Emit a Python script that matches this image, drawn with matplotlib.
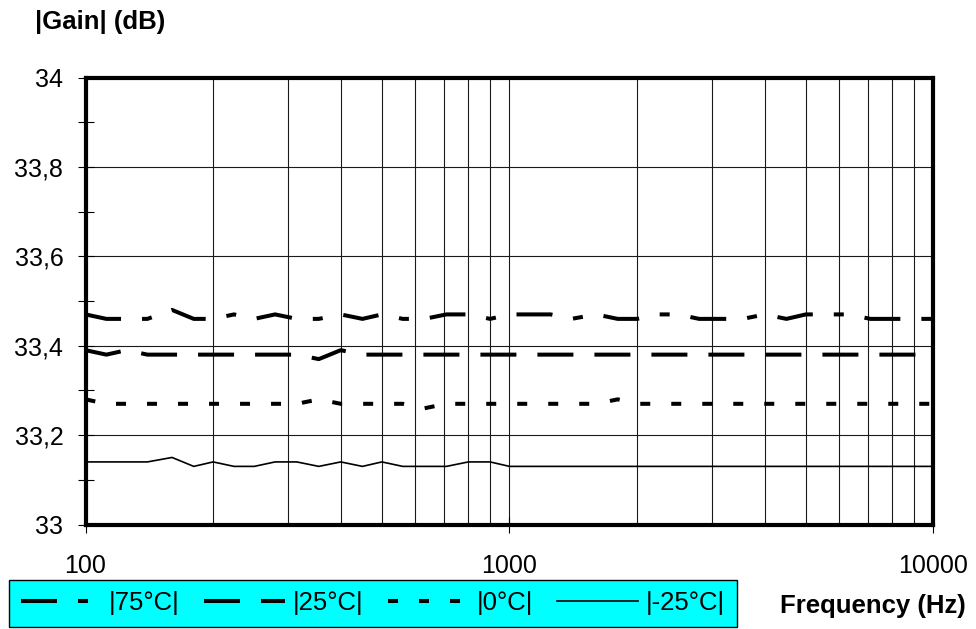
import matplotlib
matplotlib.use("Agg")
import matplotlib.pyplot as plt
from matplotlib.ticker import FixedLocator, FuncFormatter, NullFormatter

plt.rcParams["font.family"] = ["Liberation Sans", "DejaVu Sans"]
plt.rcParams["lines.scale_dashes"] = False

# R20 frequency steps, 100 Hz .. 10 kHz
freq = [100, 112, 125, 140, 160, 180, 200, 224, 250, 280, 315, 355, 400, 450, 500,
        560, 630, 710, 800, 900, 1000, 1120, 1250, 1400, 1600, 1800, 2000, 2240,
        2500, 2800, 3150, 3550, 4000, 4500, 5000, 5600, 6300, 7100, 8000, 9000, 10000]

gain_75 = [33.47, 33.46, 33.46, 33.46, 33.48, 33.46, 33.46, 33.47, 33.46, 33.47,
           33.46, 33.46, 33.47, 33.46, 33.47, 33.46, 33.46, 33.47, 33.47, 33.46,
           33.47, 33.47, 33.47, 33.46, 33.47, 33.46, 33.46, 33.47, 33.47, 33.46,
           33.46, 33.46, 33.47, 33.46, 33.47, 33.47, 33.47, 33.46, 33.46, 33.46, 33.46]

gain_25 = [33.39, 33.38, 33.39, 33.38, 33.38, 33.38, 33.38, 33.38, 33.38, 33.38,
           33.38, 33.37, 33.39, 33.38, 33.38, 33.38, 33.38, 33.38, 33.38, 33.38,
           33.38, 33.38, 33.38, 33.38, 33.38, 33.38, 33.38, 33.38, 33.38, 33.38,
           33.38, 33.38, 33.38, 33.38, 33.38, 33.38, 33.38, 33.38, 33.38, 33.38, 33.38]

gain_0 = [33.28, 33.27, 33.27, 33.27, 33.27, 33.27, 33.27, 33.27, 33.27, 33.27,
          33.27, 33.28, 33.27, 33.27, 33.27, 33.27, 33.26, 33.27, 33.27, 33.27,
          33.27, 33.27, 33.27, 33.27, 33.27, 33.28, 33.27, 33.27, 33.27, 33.27,
          33.27, 33.27, 33.27, 33.27, 33.27, 33.27, 33.27, 33.27, 33.27, 33.27, 33.27]

gain_m25 = [33.14, 33.14, 33.14, 33.14, 33.15, 33.13, 33.14, 33.13, 33.13, 33.14,
            33.14, 33.13, 33.14, 33.13, 33.14, 33.13, 33.13, 33.13, 33.14, 33.14,
            33.13, 33.13, 33.13, 33.13, 33.13, 33.13, 33.13, 33.13, 33.13, 33.13,
            33.13, 33.13, 33.13, 33.13, 33.13, 33.13, 33.13, 33.13, 33.13, 33.13, 33.13]

labels = ["|75°C|", "|25°C|", "|0°C|", "|-25°C|"]
y_ticks = [33, 33.2, 33.4, 33.6, 33.8, 34]
x_ticks = [100, 1000, 10000]

W, H = 976, 629
fig = plt.figure(figsize=(W / 100, H / 100), dpi=100)
ax = fig.add_axes([85.5 / W, (H - 524.5) / H, (933.5 - 85.5) / W, (524.5 - 77.5) / H])

# pixel -> point conversion for dash lengths
px = 0.72
ax.plot(freq, gain_75, color="black", lw=2.9, dashes=(36 * px, 21 * px, 10 * px, 21 * px),
        label=labels[0], zorder=4)
ax.plot(freq, gain_25, color="black", lw=2.9, dashes=(36 * px, 21 * px),
        label=labels[1], zorder=4)
ax.plot(freq, gain_0, color="black", lw=2.9, dashes=(10 * px, 21 * px),
        label=labels[2], zorder=4)
ax.plot(freq, gain_m25, color="black", lw=1.2, label=labels[3], zorder=4)

ax.set_xscale("log")
ax.set_xlim(100, 10000)
ax.set_ylim(33, 34)

ax.xaxis.set_major_locator(FixedLocator(x_ticks))
ax.xaxis.set_major_formatter(FuncFormatter(lambda v, p: f"{v:g}"))
ax.xaxis.set_minor_formatter(NullFormatter())
ax.yaxis.set_major_locator(FixedLocator(y_ticks))
ax.yaxis.set_minor_locator(FixedLocator([33.1, 33.3, 33.5, 33.7, 33.9]))
ax.yaxis.set_major_formatter(FuncFormatter(lambda v, p: f"{v:g}".replace(".", ",")))

ax.grid(True, which="major", color="#1a1a1a", lw=0.8)
ax.grid(True, which="minor", axis="x", color="#1a1a1a", lw=0.8)

ax.tick_params(axis="y", which="both", direction="inout", length=11, width=0.8,
               pad=10.5, labelsize=18)
ax.tick_params(axis="x", which="major", direction="inout", length=11, width=0.8,
               pad=16, labelsize=18)
ax.tick_params(axis="x", which="minor", length=0)

for s in ax.spines.values():
    s.set_linewidth(3)
    s.set_zorder(5)

fig.text(35 / W, 1 - 22 / H, "|Gain| (dB)", fontsize=18.5, fontweight="bold",
         ha="left", va="center")
fig.text(966 / W, 1 - 606 / H, "Frequency (Hz)", fontsize=18.5, fontweight="bold",
         ha="right", va="center")

leg = fig.legend(loc="lower left", bbox_to_anchor=(9 / W, 2 / H), bbox_transform=fig.transFigure,
                 ncol=4, fontsize=18.5, frameon=True, fancybox=False, framealpha=1,
                 facecolor="#00FFFF", edgecolor="black", borderaxespad=0,
                 handlelength=3.15, handletextpad=0.3, columnspacing=0.95, borderpad=0.45)
leg.get_frame().set_linewidth(1.0)

fig.savefig("out.png", dpi=100, facecolor="white")
